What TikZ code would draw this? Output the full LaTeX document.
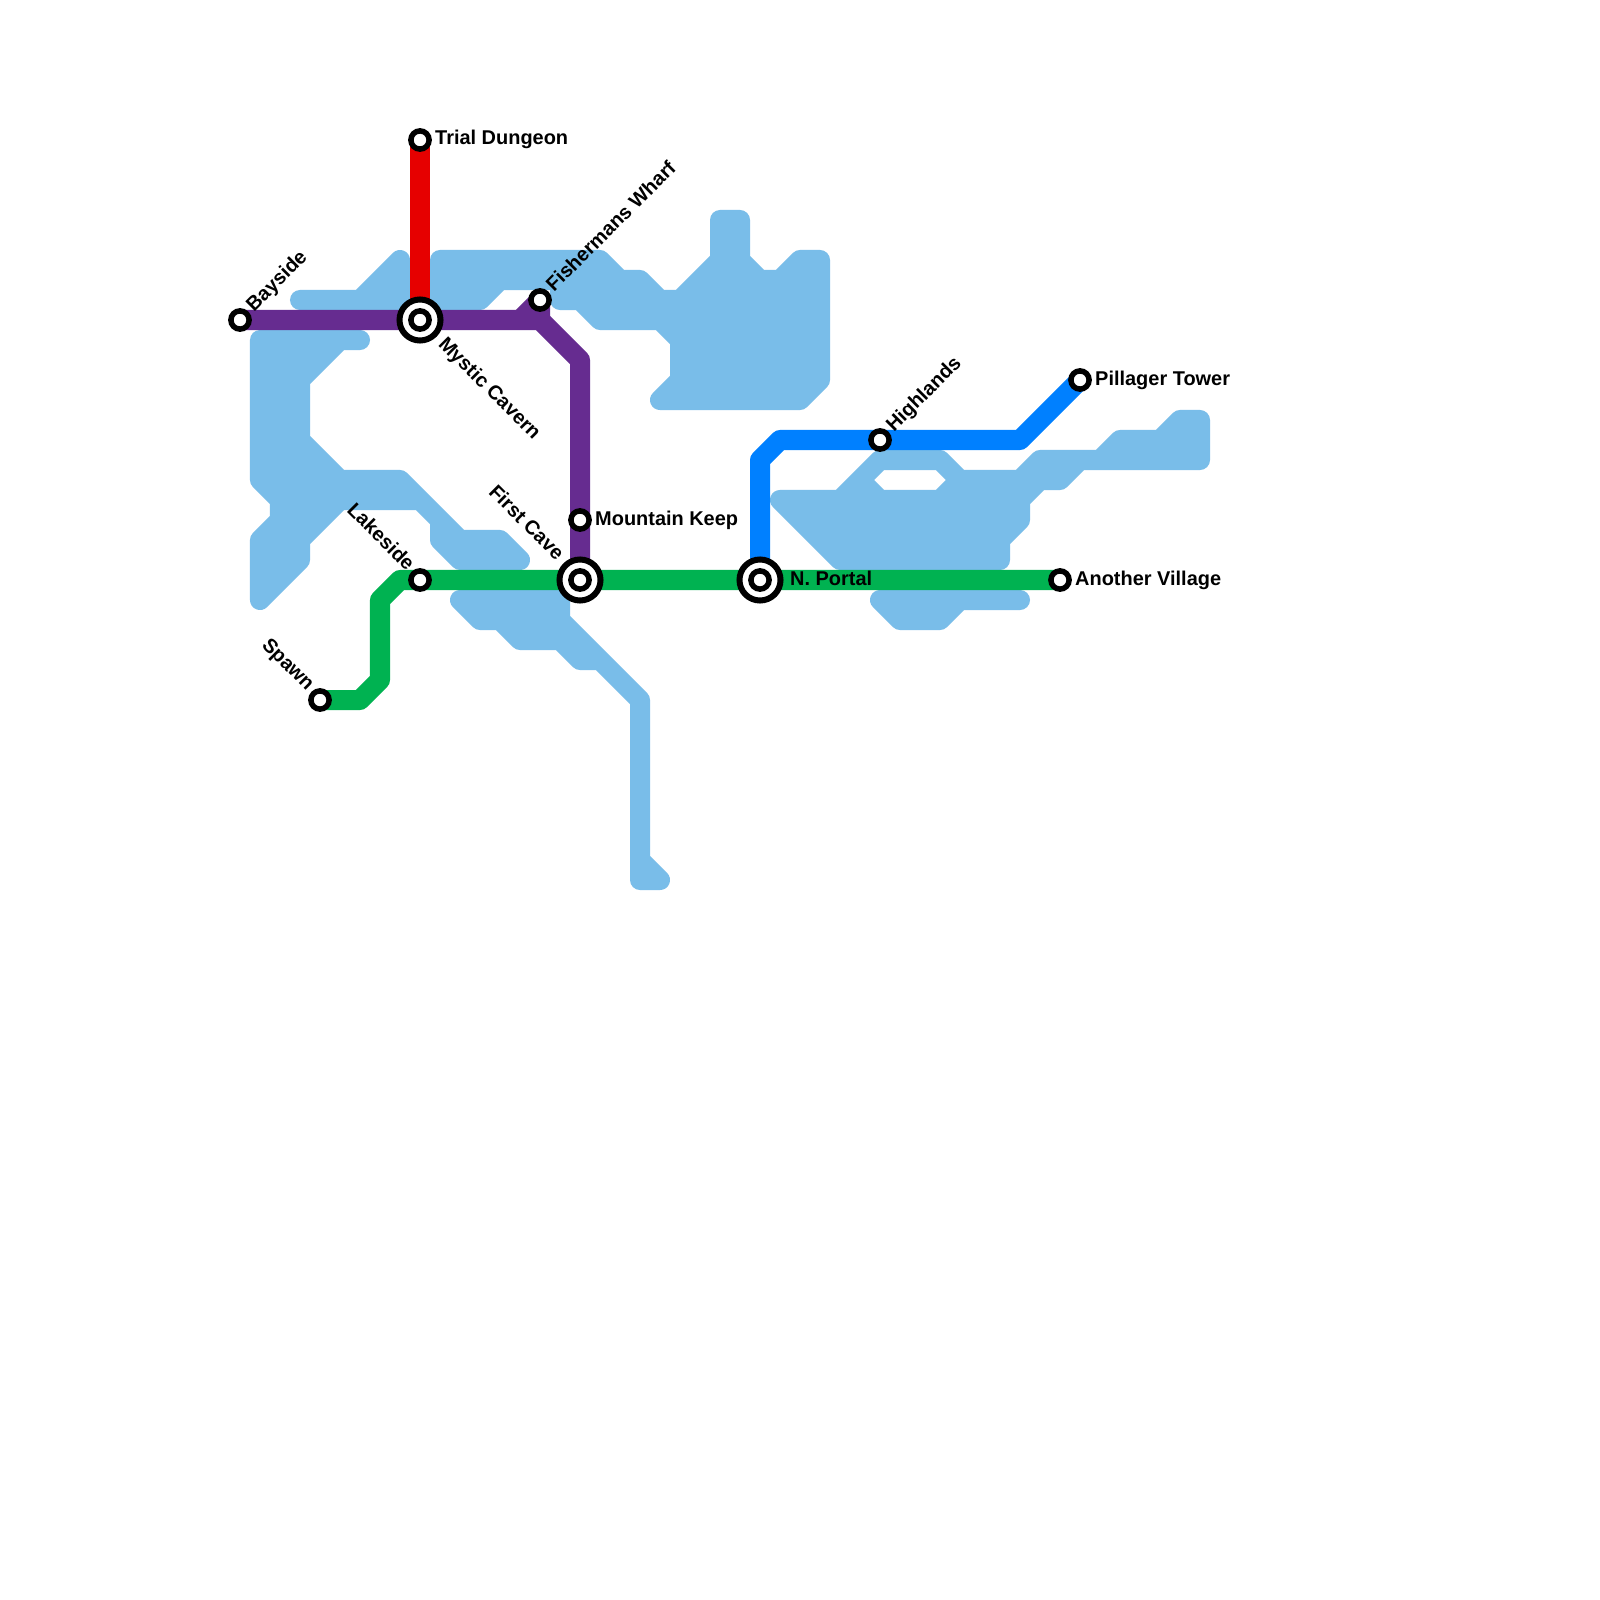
\documentclass[tikz,border=0pt]{standalone}
\usepackage{fontspec}
\setmainfont{Liberation Sans}
\begin{document}
\begin{tikzpicture}[x=0.01cm,y=-0.01cm,
  water/.style={draw=waterblue,fill=waterblue,line width=0.2cm,line join=round,line cap=round},
  metro/.style={line width=0.2cm,line join=round},
  stop/.style={circle,draw=black,fill=white,line width=0.055cm,minimum size=0.182cm,inner sep=0pt},
  hub/.style={circle,draw=black,fill=white,line width=0.06cm,minimum size=0.41cm,inner sep=0pt},
  lab/.style={font=\bfseries\fontsize{5.67}{6}\selectfont,inner sep=0pt,text=black}]
\definecolor{waterblue}{HTML}{79BDE9}
\definecolor{linered}{HTML}{E60000}
\definecolor{linepurple}{HTML}{662C90}
\definecolor{linegreen}{HTML}{00B251}
\definecolor{lineblue}{HTML}{0080FF}
\useasboundingbox (0,0) rectangle (1600,1600);
\fill[white] (0,0) rectangle (1600,1600);

% water
\draw[water] (300,300) -- (360,300) -- (400,260) -- (400,300) -- cycle;
\draw[water] (440,260) -- (600,260) -- (620,280) -- (640,280) -- (660,300) -- (680,300) -- (720,260) -- (720,220) -- (740,220) -- (740,260) -- (760,280) -- (780,280) -- (800,260) -- (820,260) -- (820,380) -- (800,400) -- (660,400) -- (680,380) -- (680,340) -- (660,320) -- (600,320) -- (580,300) -- (560,300) -- (560,280) -- (500,280) -- (480,300) -- (440,300) -- cycle;
\draw[water] (260,340) -- (360,340) -- (340,340) -- (300,380) -- (300,440) -- (340,480) -- (400,480) -- (460,540) -- (500,540) -- (520,560) -- (460,560) -- (440,540) -- (440,520) -- (420,500) -- (340,500) -- (300,540) -- (300,560) -- (260,600) -- (260,540) -- (280,520) -- (280,500) -- (260,480) -- cycle;
\draw[water] (460,600) -- (560,600) -- (560,620) -- (640,700) -- (640,860) -- (660,880) -- (640,880) -- (640,700) -- (600,660) -- (580,660) -- (560,640) -- (520,640) -- (500,620) -- (480,620) -- cycle;
\draw[water,even odd rule] (780,500) -- (840,500) -- (880,460) -- (940,460) -- (960,480) -- (1020,480) -- (1040,460) -- (1100,460) -- (1120,440) -- (1160,440) -- (1180,420) -- (1200,420) -- (1200,460) -- (1080,460) -- (1060,480) -- (1040,480) -- (1020,500) -- (1020,520) -- (1000,540) -- (1000,560) -- (840,560) -- cycle
  (860,480) -- (880,460) -- (940,460) -- (960,480) -- (940,500) -- (880,500) -- cycle;
\draw[water] (880,600) -- (1020,600) -- (960,600) -- (940,620) -- (900,620) -- cycle;

% stations' positions and bends
\coordinate (trial) at (420,140);
\coordinate (mystic) at (420,320);
\coordinate (bay) at (240,320);
\coordinate (fish) at (540,300);
\coordinate (keep) at (580,520);
\coordinate (first) at (580,580);
\coordinate (lake) at (420,580);
\coordinate (spawn) at (320,700);
\coordinate (portal) at (760,580);
\coordinate (village) at (1060,580);
\coordinate (high) at (880,440);
\coordinate (pillager) at (1080,380);
\coordinate (pa) at (520,320);
\coordinate (pb) at (540,320);
\coordinate (pc) at (580,360);
\coordinate (ga) at (360,700);
\coordinate (gb) at (380,680);
\coordinate (gc) at (380,600);
\coordinate (gd) at (400,580);
\coordinate (ba) at (760,460);
\coordinate (bb) at (780,440);
\coordinate (bc) at (1020,440);

% lines
\draw[metro,draw=linered] (trial) -- (mystic);
\draw[metro,draw=linegreen] (spawn) -- (ga) -- (gb) -- (gc) -- (gd) -- (lake) -- (first) -- (portal) -- (village);
\draw[metro,draw=linepurple] (pa) -- (fish) -- (pb);
\draw[metro,draw=linepurple] (bay) -- (mystic) -- (pb) -- (pc) -- (keep) -- (first);
\draw[metro,draw=lineblue] (portal) -- (ba) -- (bb) -- (high) -- (bc) -- (pillager);

% stations
\node[stop] (sTrial) at (trial) {};
\node[stop] (sBay) at (bay) {};
\node[stop] (sFish) at (fish) {};
\node[stop] (sKeep) at (keep) {};
\node[stop] (sLake) at (lake) {};
\node[stop] (sSpawn) at (spawn) {};
\node[stop] (sVillage) at (village) {};
\node[stop] (sHigh) at (high) {};
\node[stop] (sPillager) at (pillager) {};
\foreach \p/\n in {mystic/sMystic,first/sFirst,portal/sPortal}{
  \node[hub] (\n) at (\p) {};
  \node[stop] (\n i) at (\p) {};
}

% labels
\node[lab,anchor=base west] (lTrial) at (434.5,145) {Trial Dungeon};
\node[lab,anchor=base west] (lKeep) at (594.5,525) {Mountain Keep};
\node[lab,anchor=base west] (lPillager) at (1094.5,385) {Pillager Tower};
\node[lab,anchor=base west] (lVillage) at (1074.5,585) {Another Village};
\node[lab,anchor=base west] (lPortal) at (789.5,585) {N. Portal};
\node[lab,anchor=base west,rotate=45] (lBay) at (253.5,313) {Bayside};
\node[lab,anchor=base west,rotate=45] (lFish) at (553.5,293) {Fishermans Wharf};
\node[lab,anchor=base west,rotate=45] (lHigh) at (893.5,433) {Highlands};
\node[lab,anchor=base west,rotate=-45] (lMystic) at (437,344.5) {Mystic Cavern};
\node[lab,anchor=base east,rotate=-45] (lLake) at (407,572) {Lakeside};
\node[lab,anchor=base east,rotate=-45] (lFirst) at (556.5,562) {First Cave};
\node[lab,anchor=base east,rotate=-45] (lSpawn) at (307,692) {Spawn};
\end{tikzpicture}
\end{document}
